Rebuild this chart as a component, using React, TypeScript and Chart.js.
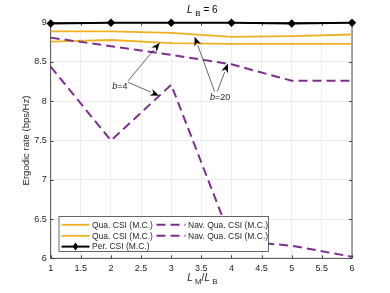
import React, { useEffect, useRef } from "react";
import { Chart, registerables } from "chart.js";

Chart.register(...registerables);

const xValues = [1, 2, 3, 4, 5, 6];
const perCSI = [8.99, 9.0, 9.0, 9.0, 8.99, 9.0];
const quaB20 = [8.89, 8.89, 8.87, 8.82, 8.83, 8.85];
const quaB4 = [8.76, 8.78, 8.74, 8.73, 8.73, 8.73];
const navB20 = [8.81, 8.7, 8.59, 8.47, 8.26, 8.26];
const navB4 = [8.44, 7.5, 8.21, 6.23, 6.16, 6.02];

const legendCol1 = ["Qua. CSI (M.C.)", "Qua. CSI (M.C.)", "Per. CSI (M.C.)"];
const legendCol2 = ["Nav. Qua. CSI (M.C.)", "Nav. Qua. CSI (M.C.)"];

// annotation arrows: [tailX, tailY, headX, headY] in data units
const arrowsB4 = [
  [2.285, 8.26, 2.81, 8.745],
  [2.285, 8.24, 2.8, 8.07],
];
const arrowsB20 = [
  [3.72, 8.124, 3.389, 8.82],
  [3.765, 8.124, 3.94, 8.48],
];
const labelB4 = [2.147, 8.19];
const labelB20 = [3.81, 8.05];

const YELLOW = "#EDB120";
const PURPLE = "#7E2F8E";
const AX = "#262626";
const FONT = "'Liberation Sans', Arial, sans-serif";

const overlay = {
  id: "overlay",
  beforeDatasetsDraw(chart: any) {
    const { ctx, chartArea: a, scales } = chart;
    ctx.save();
    ctx.strokeStyle = AX;
    ctx.lineWidth = 0.8;
    // inward ticks
    const tl = 3;
    ctx.beginPath();
    for (let v = 1; v <= 6.001; v += 0.5) {
      const px = Math.round(scales.x.getPixelForValue(v)) + 0.5;
      ctx.moveTo(px, a.bottom);
      ctx.lineTo(px, a.bottom - tl);
      ctx.moveTo(px, a.top);
      ctx.lineTo(px, a.top + tl);
    }
    for (let v = 6; v <= 9.001; v += 0.5) {
      const py = Math.round(scales.y.getPixelForValue(v)) + 0.5;
      ctx.moveTo(a.left, py);
      ctx.lineTo(a.left + tl, py);
      ctx.moveTo(a.right, py);
      ctx.lineTo(a.right - tl, py);
    }
    ctx.stroke();
    ctx.strokeRect(a.left, a.top, a.right - a.left, a.bottom - a.top);
    ctx.restore();
  },
  afterDatasetsDraw(chart: any) {
    const { ctx, chartArea: a, scales } = chart;
    const X = (v: number) => scales.x.getPixelForValue(v);
    const Y = (v: number) => scales.y.getPixelForValue(v);
    ctx.save();

    // arrows
    const drawArrow = (t: number[]) => {
      const x1 = X(t[0]), y1 = Y(t[1]), x2 = X(t[2]), y2 = Y(t[3]);
      const ang = Math.atan2(y2 - y1, x2 - x1);
      const hl = 9, hw = 3.5;
      const bx = x2 - hl * Math.cos(ang), by = y2 - hl * Math.sin(ang);
      ctx.strokeStyle = "#000";
      ctx.lineWidth = 0.6;
      ctx.beginPath();
      ctx.moveTo(x1, y1);
      ctx.lineTo(bx, by);
      ctx.stroke();
      ctx.fillStyle = "#000";
      ctx.beginPath();
      ctx.moveTo(x2, y2);
      ctx.lineTo(bx + hw * Math.sin(ang), by - hw * Math.cos(ang));
      ctx.lineTo(x2 - hl * 0.7 * Math.cos(ang), y2 - hl * 0.7 * Math.sin(ang));
      ctx.lineTo(bx - hw * Math.sin(ang), by + hw * Math.cos(ang));
      ctx.closePath();
      ctx.fill();
    };
    arrowsB4.forEach(drawArrow);
    arrowsB20.forEach(drawArrow);

    const drawBLabel = (pos: number[], num: string) => {
      const cx = X(pos[0]), cy = Y(pos[1]);
      ctx.textBaseline = "middle";
      ctx.font = `italic 9px ${FONT}`;
      const wb = ctx.measureText("b").width;
      ctx.font = `9px ${FONT}`;
      const wr = ctx.measureText("=" + num).width;
      const sx = cx - (wb + wr) / 2;
      // white-ish background not needed
      ctx.fillStyle = AX;
      ctx.textAlign = "left";
      ctx.font = `italic 9px ${FONT}`;
      ctx.fillText("b", sx, cy);
      ctx.font = `9px ${FONT}`;
      ctx.fillText("=" + num, sx + wb, cy);
    };
    drawBLabel(labelB4, "4");
    drawBLabel(labelB20, "20");

    // legend
    const lx0 = 59, ly0 = 216.5, lx1 = 268.5, ly1 = 251.5;
    ctx.fillStyle = "#fff";
    ctx.fillRect(lx0, ly0, lx1 - lx0, ly1 - ly0);
    ctx.strokeStyle = AX;
    ctx.lineWidth = 0.7;
    ctx.strokeRect(lx0, ly0, lx1 - lx0, ly1 - ly0);
    const rows = [224.8, 235.8, 246.6];
    ctx.font = `8.5px ${FONT}`;
    ctx.textAlign = "left";
    ctx.textBaseline = "middle";
    legendCol1.forEach((t, i) => {
      const y = rows[i];
      ctx.strokeStyle = i < 2 ? YELLOW : "#000";
      ctx.lineWidth = i < 2 ? 1.8 : 2;
      ctx.setLineDash([]);
      ctx.beginPath();
      ctx.moveTo(61.5, y);
      ctx.lineTo(89.5, y);
      ctx.stroke();
      if (i === 2) {
        ctx.fillStyle = "#000";
        ctx.beginPath();
        const mx = 75.5, r = 4;
        ctx.moveTo(mx, y - r);
        ctx.lineTo(mx + r * 0.7, y);
        ctx.lineTo(mx, y + r);
        ctx.lineTo(mx - r * 0.7, y);
        ctx.closePath();
        ctx.fill();
      }
      ctx.fillStyle = AX;
      ctx.fillText(t, 92, y + 0.5);
    });
    legendCol2.forEach((t, i) => {
      const y = rows[i];
      ctx.strokeStyle = PURPLE;
      ctx.lineWidth = 2;
      ctx.setLineDash([9, 5]);
      ctx.beginPath();
      ctx.moveTo(156.5, y);
      ctx.lineTo(185.5, y);
      ctx.stroke();
      ctx.setLineDash([]);
      ctx.fillStyle = AX;
      ctx.fillText(t, 188, y + 0.5);
    });

    // title L_B = 6
    ctx.fillStyle = "#000";
    ctx.textBaseline = "alphabetic";
    const cx = (a.left + a.right) / 2;
    const parts: [string, string, number][] = [
      ["L", "italic 10px", 0],
      [" ", "10px", 0],
      ["B", "8px", 3],
      [" = 6", "10px", 0],
    ];
    let tw = 0;
    parts.forEach((p) => {
      ctx.font = `${p[1]} ${FONT}`;
      tw += ctx.measureText(p[0]).width;
    });
    let sx = cx - tw / 2 + 1;
    parts.forEach((p) => {
      ctx.font = `${p[1]} ${FONT}`;
      ctx.fillText(p[0], sx, 13 + p[2]);
      sx += ctx.measureText(p[0]).width;
    });

    // x label L_M / L_B
    ctx.fillStyle = AX;
    const xparts: [string, string, number][] = [
      ["L", "italic 10px", 0],
      [" ", "8px", 0],
      ["M", "8px", 3],
      ["/", "10px", 0],
      ["L", "italic 10px", 0],
      [" ", "8px", 0],
      ["B", "8px", 3],
    ];
    tw = 0;
    xparts.forEach((p) => {
      ctx.font = `${p[1]} ${FONT}`;
      tw += ctx.measureText(p[0]).width;
    });
    sx = cx - tw / 2 + 1;
    xparts.forEach((p) => {
      ctx.font = `${p[1]} ${FONT}`;
      ctx.fillText(p[0], sx, 281 + p[2]);
      sx += ctx.measureText(p[0]).width;
    });

    // y label
    ctx.save();
    ctx.translate(26, (a.top + a.bottom) / 2);
    ctx.rotate(-Math.PI / 2);
    ctx.textAlign = "center";
    ctx.textBaseline = "middle";
    ctx.font = `9.5px ${FONT}`;
    ctx.fillText("Ergodic rate (bps/Hz)", 0, 0);
    ctx.restore();

    ctx.restore();
  },
};

export default function App() {
  const ref = useRef<HTMLCanvasElement>(null);
  useEffect(() => {
    const ds = (data: number[], color: string, width: number, dash: number[] = []) => ({
      data: xValues.map((x, i) => ({ x, y: data[i] })),
      borderColor: color,
      backgroundColor: color,
      borderWidth: width,
      borderDash: dash,
      pointRadius: 0,
      tension: 0,
      clip: false as any,
    });
    const chart = new Chart(ref.current!, {
      type: "line",
      data: {
        datasets: [
          ds(navB4, PURPLE, 2, [9, 5]),
          ds(navB20, PURPLE, 2, [9, 5]),
          ds(quaB4, YELLOW, 1.8),
          ds(quaB20, YELLOW, 1.8),
          {
            ...ds(perCSI, "#000", 2),
            pointRadius: 4.2,
            pointStyle: "rectRot",
            pointBackgroundColor: "#000",
            pointBorderColor: "#000",
            pointBorderWidth: 0,
          },
        ],
      },
      options: {
        responsive: false,
        animation: false,
        events: [],
        layout: { padding: { left: 0, top: 22.7, right: 38, bottom: 0 } },
        plugins: { legend: { display: false }, title: { display: false }, tooltip: { enabled: false } },
        scales: {
          x: {
            type: "linear",
            min: 1,
            max: 6,
            afterFit: (s: any) => {
              s.height = 34.7;
            },
            ticks: {
              stepSize: 0.5,
              padding: 5,
              color: AX,
              font: { family: FONT, size: 9 },
              maxRotation: 0,
              autoSkip: false,
              callback: (v: any) => String(v),
            },
            grid: { color: "#e8e8e8", lineWidth: 0.8, drawTicks: false },
            border: { display: false },
          },
          y: {
            type: "linear",
            min: 6,
            max: 9,
            afterFit: (s: any) => {
              s.width = 50.7;
            },
            ticks: {
              stepSize: 0.5,
              padding: 4,
              color: AX,
              font: { family: FONT, size: 9 },
              autoSkip: false,
              callback: (v: any) => String(v),
            },
            grid: { color: "#e8e8e8", lineWidth: 0.8, drawTicks: false },
            border: { display: false },
          },
        },
      },
      plugins: [overlay],
    });
    return () => chart.destroy();
  }, []);
  return (
    <div style={{ position: "fixed", left: 0, top: 0, width: 390, height: 293, background: "#fff" }}>
      <canvas ref={ref} width={390} height={293} style={{ width: 390, height: 293, display: "block" }} />
    </div>
  );
}
